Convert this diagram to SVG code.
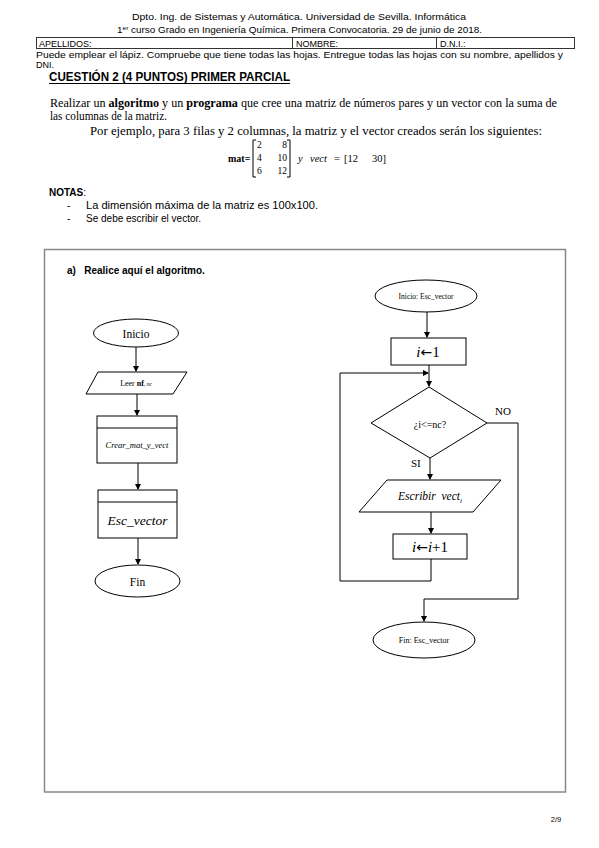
<svg xmlns="http://www.w3.org/2000/svg" width="599" height="848" viewBox="0 0 599 848">
<defs>
<marker id="ah" markerWidth="6" markerHeight="6" refX="5" refY="3" orient="auto" markerUnits="userSpaceOnUse">
<path d="M0,0 L6,3 L0,6 Z" fill="#000"/>
</marker>
<style>
.sans{font-family:"Liberation Sans",Arial,sans-serif;fill:#000}
.serif{font-family:"Liberation Serif","Times New Roman",serif;fill:#000}
.arr{font-family:"DejaVu Sans",sans-serif;font-style:normal}
.shape{fill:#fff;stroke:#000;stroke-width:1}
.line{fill:none;stroke:#000;stroke-width:1}
.frame{fill:none;stroke:#888;stroke-width:1.5}
.tbl{fill:none;stroke:#333;stroke-width:1}
</style>
</defs>
<rect width="599" height="848" fill="#fff"/>

<!-- Header -->
<text class="sans" x="299" y="20" font-size="9" text-anchor="middle" textLength="334" lengthAdjust="spacingAndGlyphs">Dpto. Ing. de Sistemas y Automática. Universidad de Sevilla. Informática</text>
<text class="sans" x="117" y="33" font-size="9" textLength="365" lengthAdjust="spacingAndGlyphs">1<tspan font-size="6" dy="-3">er</tspan><tspan dy="3"> curso Grado en Ingeniería Química. Primera Convocatoria. 29 de junio de 2018.</tspan></text>
<rect class="tbl" x="36.5" y="37.5" width="538" height="11"/>
<line class="tbl" x1="292.5" y1="37.5" x2="292.5" y2="48.5"/>
<line class="tbl" x1="436.5" y1="37.5" x2="436.5" y2="48.5"/>
<text class="sans" x="39" y="46.5" font-size="9">APELLIDOS:</text>
<text class="sans" x="296" y="46.5" font-size="9">NOMBRE:</text>
<text class="sans" x="440" y="46.5" font-size="9">D.N.I.:</text>
<text class="sans" x="36" y="58" font-size="9" textLength="527" lengthAdjust="spacingAndGlyphs">Puede emplear el lápiz. Compruebe que tiene todas las hojas. Entregue todas las hojas con su nombre, apellidos y</text>
<text class="sans" x="36" y="68" font-size="9">DNI.</text>
<text class="sans" x="49" y="81" font-size="12" font-weight="bold" textLength="241" lengthAdjust="spacingAndGlyphs">CUESTIÓN 2 (4 PUNTOS) PRIMER PARCIAL</text>
<line x1="49" y1="83.5" x2="290" y2="83.5" stroke="#000" stroke-width="1"/>

<!-- Statement -->
<text class="serif" x="50" y="107" font-size="11.5" textLength="507" lengthAdjust="spacingAndGlyphs">Realizar un <tspan font-weight="bold">algoritmo</tspan> y un <tspan font-weight="bold">programa</tspan> que cree una matriz de números pares y un vector con la suma de</text>
<text class="serif" x="50" y="120" font-size="11.5" textLength="117" lengthAdjust="spacingAndGlyphs">las columnas de la matriz.</text>
<text class="serif" x="90" y="135" font-size="11.5" textLength="452" lengthAdjust="spacingAndGlyphs">Por ejemplo, para 3 filas y 2 columnas, la matriz y el vector creados serán  los siguientes:</text>

<!-- Matrix -->
<text class="serif" x="228" y="162" font-size="10" font-weight="bold">mat=</text>
<path class="line" d="M256,140 L253,140 L253,177 L256,177"/>
<path class="line" d="M287,140 L290,140 L290,177 L287,177"/>
<g class="serif" font-size="9.5">
<text x="257" y="148">2</text><text x="287" y="148" text-anchor="end">8</text>
<text x="257" y="161">4</text><text x="287" y="161" text-anchor="end">10</text>
<text x="257" y="174">6</text><text x="287" y="174" text-anchor="end">12</text>
</g>
<g class="serif" font-size="10.5">
<text x="298" y="162" font-style="italic">y</text>
<text x="310" y="162" font-style="italic">vect</text>
<text x="334" y="162">=</text>
<text x="344" y="162">[12</text>
<text x="372" y="162">30]</text>
</g>

<!-- Notes -->
<text class="sans" x="49" y="196" font-size="10" font-weight="bold">NOTAS<tspan font-weight="normal">:</tspan></text>
<text class="sans" x="67" y="209" font-size="10">-</text>
<text class="sans" x="86" y="209" font-size="10" textLength="232" lengthAdjust="spacingAndGlyphs">La dimensión máxima de la matriz es 100x100.</text>
<text class="sans" x="67" y="222" font-size="10">-</text>
<text class="sans" x="86" y="222" font-size="10">Se debe escribir el vector.</text>

<!-- Frame -->
<rect class="frame" x="44.5" y="249.5" width="521" height="542.5"/>
<text class="sans" x="67" y="274" font-size="10" font-weight="bold" xml:space="preserve">a)   Realice aquí el algoritmo.</text>

<!-- Connectors -->
<g id="connectors">
<line class="line" x1="136" y1="347" x2="136" y2="371" marker-end="url(#ah)"/>
<line class="line" x1="137" y1="394" x2="137" y2="415" marker-end="url(#ah)"/>
<line class="line" x1="138" y1="463" x2="138" y2="489" marker-end="url(#ah)"/>
<line class="line" x1="138" y1="538" x2="138" y2="564" marker-end="url(#ah)"/>

<line class="line" x1="427" y1="312" x2="427" y2="337" marker-end="url(#ah)"/>
<line class="line" x1="429" y1="365" x2="429" y2="386" marker-end="url(#ah)"/>
<polyline class="line" points="431,559 431,581 340,581 340,373 428,373" marker-end="url(#ah)"/>
<line class="line" x1="430" y1="458" x2="430" y2="479" marker-end="url(#ah)"/>
<line class="line" x1="431" y1="512" x2="431" y2="533" marker-end="url(#ah)"/>
<polyline class="line" points="487,423 518,423 518,599 424,599 424,621" marker-end="url(#ah)"/>
<text class="serif" x="495" y="415" font-size="11">NO</text>
<text class="serif" x="411" y="467" font-size="11">SI</text>
</g>

<!-- Left flowchart -->
<g id="inicio">
<ellipse class="shape" cx="136" cy="333" rx="42.5" ry="14"/>
<text class="serif" x="136" y="337.5" font-size="11.5" text-anchor="middle">Inicio</text>
</g>
<g id="leer">
<polygon class="shape" points="98,372 187,372 173,394 86,394"/>
<text class="serif" x="136" y="386" font-size="8" text-anchor="middle">Leer <tspan font-weight="bold">nf</tspan><tspan font-size="5.5" font-style="italic">, nc</tspan></text>
</g>
<g id="crear">
<rect class="shape" x="97" y="416" width="80" height="47"/>
<line class="line" x1="97" y1="428" x2="177" y2="428"/>
<text class="serif" x="137" y="448" font-size="8.5" font-style="italic" text-anchor="middle">Crear_mat_y_vect</text>
</g>
<g id="esc">
<rect class="shape" x="98" y="490" width="79" height="48"/>
<line class="line" x1="98" y1="502" x2="177" y2="502"/>
<text class="serif" x="137.5" y="525" font-size="13.5" font-style="italic" text-anchor="middle">Esc_vector</text>
</g>
<g id="fin">
<ellipse class="shape" cx="137.5" cy="581" rx="42.5" ry="16"/>
<text class="serif" x="137.5" y="585.5" font-size="11.5" text-anchor="middle">Fin</text>
</g>

<!-- Right flowchart -->
<g id="inicio2">
<ellipse class="shape" cx="426" cy="296" rx="51" ry="16"/>
<text class="serif" x="426" y="299" font-size="7.5" text-anchor="middle">Inicio: Esc_vector</text>
</g>
<g id="init">
<rect class="shape" x="391" y="338" width="75" height="27"/>
<text class="serif" x="428" y="357" font-size="15" text-anchor="middle"><tspan font-style="italic">i</tspan><tspan class="arr" font-size="14">←</tspan>1</text>
</g>
<g id="cond">
<polygon class="shape" points="429,387 487,423 430,458 371,423"/>
<text class="serif" x="430" y="428" font-size="10" text-anchor="middle">¿i&lt;=nc?</text>
</g>
<g id="escribir">
<polygon class="shape" points="387,480 501,480 473,512 359,512"/>
<text class="serif" x="430" y="500" font-size="11.5" font-style="italic" text-anchor="middle" xml:space="preserve">Escribir  vect<tspan font-size="7" dy="3">i</tspan></text>
</g>
<g id="incr">
<rect class="shape" x="393" y="534" width="74" height="25"/>
<text class="serif" x="430" y="552" font-size="15" text-anchor="middle"><tspan font-style="italic">i</tspan><tspan class="arr" font-size="14">←</tspan><tspan font-style="italic">i</tspan>+1</text>
</g>
<g id="fin2">
<ellipse class="shape" cx="424" cy="640" rx="51" ry="18"/>
<text class="serif" x="424" y="643" font-size="8" text-anchor="middle">Fin: Esc_vector</text>
</g>

<text class="sans" x="556" y="822" font-size="7.5" text-anchor="middle">2/9</text>
</svg>
